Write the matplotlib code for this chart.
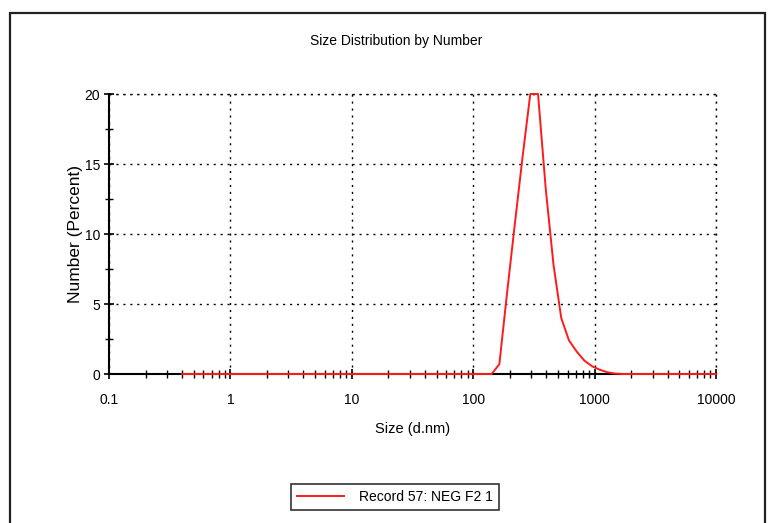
import matplotlib
matplotlib.use("Agg")
import matplotlib.pyplot as plt
from matplotlib.patches import Rectangle
from matplotlib.ticker import LogLocator, MultipleLocator, FixedLocator, FixedFormatter

plt.rcParams['font.family'] = ['Liberation Sans', 'DejaVu Sans']

# Data (size in d.nm, number percent)
sizes = [0.4, 1.0, 10.0, 100.0, 141.8, 164.2, 190.1, 220.2, 255.0, 295.3, 342.0,
         396.1, 458.7, 531.2, 615.1, 712.4, 825.0, 955.4, 1106.0, 1281.0, 1484.0,
         1718.0, 3000.0, 10000.0]
number = [0.0, 0.0, 0.0, 0.0, 0.0, 0.7, 5.8, 10.7, 15.5, 20.0, 20.0,
          13.2, 7.8, 4.0, 2.4, 1.6, 0.95, 0.55, 0.3, 0.12, 0.03,
          0.0, 0.0, 0.0]
series_label = "Record 57: NEG F2 1"
x_ticks = [0.1, 1, 10, 100, 1000, 10000]
x_tick_labels = ["0.1", "1", "10", "100", "1000", "10000"]
y_ticks = [0, 5, 10, 15, 20]

fig = plt.figure(figsize=(7.68, 5.23), dpi=100)
W, H = 768, 523

# outer frame
fig.patches.append(Rectangle((10 / W, -0.01), (765 - 10) / W, (1 - 13 / H) + 0.01,
                             transform=fig.transFigure, fill=False,
                             edgecolor='#222222', linewidth=1.6))

ax = fig.add_axes([109 / W, 1 - 374 / H, (716 - 109) / W, (374 - 94) / H])
ax.plot(sizes, number, color='#ff1a1a', linewidth=1.4, label=series_label, clip_on=False, zorder=3)
ax.set_xscale('log')
ax.set_xlim(0.1, 10000)
ax.set_ylim(0, 20)

ax.xaxis.set_major_locator(FixedLocator(x_ticks))
ax.xaxis.set_major_formatter(FixedFormatter(x_tick_labels))
ax.xaxis.set_minor_locator(LogLocator(base=10, subs=range(2, 10), numticks=20))
ax.yaxis.set_major_locator(FixedLocator(y_ticks))
ax.yaxis.set_minor_locator(MultipleLocator(2.5))

ax.tick_params(which='major', direction='inout', length=7, width=1.2, labelsize=10)
ax.tick_params(which='minor', direction='inout', length=6, width=1.0)
ax.tick_params(axis='x', which='major', pad=10)
ax.tick_params(axis='y', which='major', pad=3)

for s in ['top', 'right']:
    ax.spines[s].set_visible(False)
for s in ['left', 'bottom']:
    ax.spines[s].set_linewidth(1.5)
    ax.spines[s].set_zorder(2)

ax.grid(True, which='major', color='black', linestyle=(0, (1.5, 3.5)), linewidth=1.0)
ax.set_axisbelow(True)
# close top/right with dotted lines
ax.axhline(20, color='black', linestyle=(0, (1.5, 3.5)), linewidth=1.0, clip_on=False)
ax.axvline(10000, color='black', linestyle=(0, (1.5, 3.5)), linewidth=1.0, clip_on=False)

ax.set_xlabel("Size (d.nm)", fontsize=10.5, labelpad=11)
ax.set_ylabel("Number (Percent)", fontsize=12.5, labelpad=1)

fig.text(396 / W, 1 - 41 / H, "Size Distribution by Number", ha='center', va='center', fontsize=10)

leg = ax.legend(loc='center', bbox_to_anchor=(395 / W, 1 - 497 / H), bbox_transform=fig.transFigure,
                fontsize=10, frameon=True, fancybox=False, edgecolor='black',
                handlelength=3.4, handletextpad=1.1, borderpad=0.45)
leg.get_frame().set_linewidth(1.2)

fig.savefig("out.png", dpi=100)
